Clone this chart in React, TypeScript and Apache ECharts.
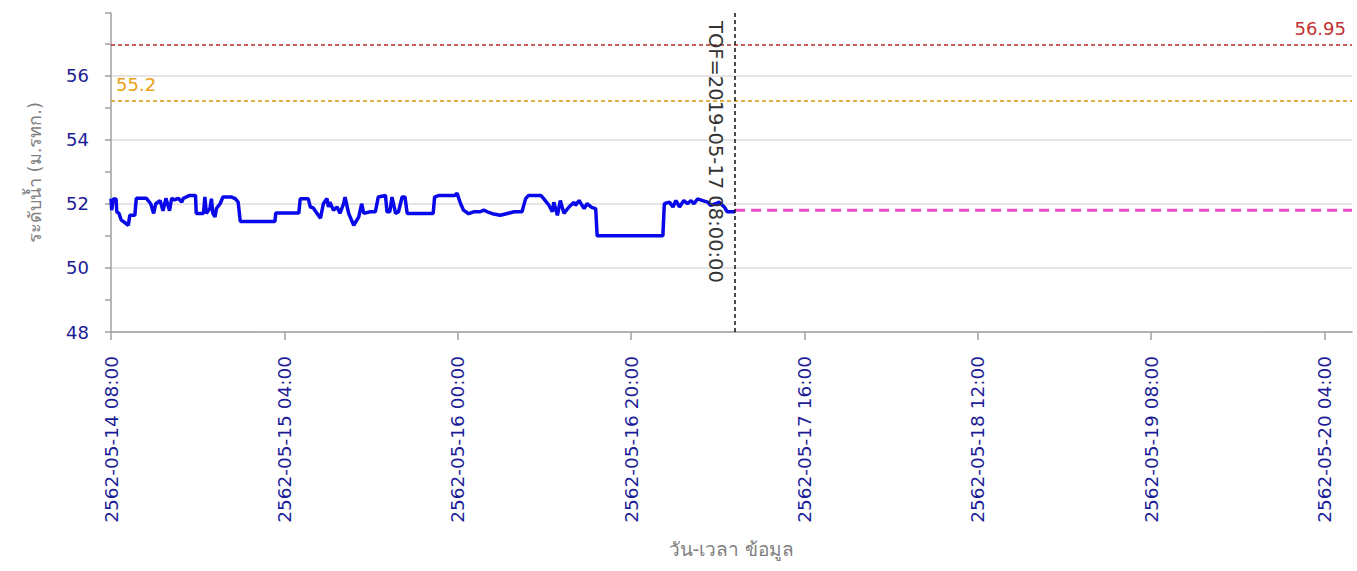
import React, { useEffect, useRef } from "react";
import * as echarts from "echarts";

const START = "2019-05-14 08:00";
const END = "2019-05-20 07:10";
const TOF = "2019-05-17 08:00";

const obsTimes = [
  "2019-05-14 08:00", "2019-05-14 08:05", "2019-05-14 08:15", "2019-05-14 08:35", "2019-05-14 08:40",
  "2019-05-14 08:55", "2019-05-14 09:10", "2019-05-14 10:00", "2019-05-14 10:10", "2019-05-14 10:45",
  "2019-05-14 10:55", "2019-05-14 12:05", "2019-05-14 12:35", "2019-05-14 12:55", "2019-05-14 13:10",
  "2019-05-14 13:40", "2019-05-14 14:00", "2019-05-14 14:20", "2019-05-14 14:45", "2019-05-14 15:00",
  "2019-05-14 15:20", "2019-05-14 15:45", "2019-05-14 16:10", "2019-05-14 16:20", "2019-05-14 17:05",
  "2019-05-14 17:45", "2019-05-14 17:50", "2019-05-14 18:40", "2019-05-14 18:50", "2019-05-14 19:00",
  "2019-05-14 19:25", "2019-05-14 19:35", "2019-05-14 19:45", "2019-05-14 20:00", "2019-05-14 20:10",
  "2019-05-14 20:35", "2019-05-14 20:55", "2019-05-14 21:55", "2019-05-14 22:20", "2019-05-14 22:40",
  "2019-05-14 22:55", "2019-05-15 02:55", "2019-05-15 03:00", "2019-05-15 05:40", "2019-05-15 05:50",
  "2019-05-15 06:45", "2019-05-15 07:00", "2019-05-15 07:20", "2019-05-15 07:55", "2019-05-15 08:10",
  "2019-05-15 08:30", "2019-05-15 08:55", "2019-05-15 09:05", "2019-05-15 09:15", "2019-05-15 09:40",
  "2019-05-15 10:05", "2019-05-15 10:25", "2019-05-15 10:50", "2019-05-15 11:00", "2019-05-15 11:25",
  "2019-05-15 12:00", "2019-05-15 12:35", "2019-05-15 12:55", "2019-05-15 13:10", "2019-05-15 13:55",
  "2019-05-15 14:30", "2019-05-15 14:50", "2019-05-15 15:40", "2019-05-15 15:50", "2019-05-15 16:10",
  "2019-05-15 16:25", "2019-05-15 16:50", "2019-05-15 17:10", "2019-05-15 17:35", "2019-05-15 17:55",
  "2019-05-15 18:10", "2019-05-15 21:10", "2019-05-15 21:20", "2019-05-15 21:50", "2019-05-15 23:40",
  "2019-05-15 23:55", "2019-05-16 00:20", "2019-05-16 00:40", "2019-05-16 01:15", "2019-05-16 01:50",
  "2019-05-16 02:35", "2019-05-16 03:00", "2019-05-16 03:25", "2019-05-16 04:00", "2019-05-16 04:55",
  "2019-05-16 06:30", "2019-05-16 07:25", "2019-05-16 07:50", "2019-05-16 08:10", "2019-05-16 09:35",
  "2019-05-16 09:55", "2019-05-16 10:30", "2019-05-16 10:55", "2019-05-16 11:05", "2019-05-16 11:30",
  "2019-05-16 11:50", "2019-05-16 12:15", "2019-05-16 12:50", "2019-05-16 13:25", "2019-05-16 13:35",
  "2019-05-16 14:00", "2019-05-16 14:35", "2019-05-16 14:55", "2019-05-16 15:30", "2019-05-16 15:55",
  "2019-05-16 16:05", "2019-05-16 23:40", "2019-05-16 23:50", "2019-05-17 00:25", "2019-05-17 00:50",
  "2019-05-17 01:10", "2019-05-17 01:35", "2019-05-17 02:05", "2019-05-17 02:30", "2019-05-17 02:55",
  "2019-05-17 03:15", "2019-05-17 03:40", "2019-05-17 04:15", "2019-05-17 04:50", "2019-05-17 05:10",
  "2019-05-17 05:45", "2019-05-17 06:10", "2019-05-17 06:45", "2019-05-17 07:05", "2019-05-17 08:00",
];

const obsLevels = [
  52.16, 51.80, 52.15, 52.15, 51.75,
  51.70, 51.50, 51.33, 51.64, 51.64,
  52.17, 52.17, 52.00, 51.70, 52.00,
  52.10, 51.78, 52.17, 51.78, 52.17,
  52.12, 52.17, 52.05, 52.17, 52.26,
  52.26, 51.70, 51.70, 52.21, 51.70,
  51.85, 52.16, 51.70, 51.59, 51.85,
  52.00, 52.21, 52.21, 52.16, 52.05,
  51.45, 51.45, 51.71, 51.71, 52.16,
  52.16, 51.90, 51.87, 51.64, 51.55,
  52.00, 52.16, 51.90, 52.05, 51.80,
  51.90, 51.70, 52.00, 52.21, 51.70,
  51.33, 51.59, 52.00, 51.70, 51.75,
  51.75, 52.21, 52.26, 51.75, 51.75,
  52.21, 51.70, 51.75, 52.21, 52.21,
  51.70, 51.70, 52.21, 52.26, 52.26,
  52.33, 52.00, 51.80, 51.69, 51.75,
  51.75, 51.80, 51.75, 51.69, 51.64,
  51.75, 51.75, 52.16, 52.26, 52.26,
  52.16, 51.96, 51.75, 52.05, 51.64,
  52.10, 51.70, 51.90, 52.05, 51.95,
  52.10, 51.85, 52.00, 51.88, 51.85,
  51.00, 51.00, 52.00, 52.05, 51.90,
  52.10, 51.90, 52.10, 52.00, 52.10,
  52.00, 52.15, 52.10, 52.05, 51.95,
  52.00, 52.05, 51.90, 51.75, 51.75,
];

const fcTimes = ["2019-05-17 08:00", "2019-05-20 07:10"];
const fcLevels = [51.8, 51.8];

const thresholdHigh = 56.95;
const thresholdWarn = 55.2;

const yMin = 48;
const yMax = 57.95;
const yStep = 2;
const xStepHours = 20;

const yAxisName = "ระดับน้ำ (ม.รทก.)";
const xAxisName = "วัน-เวลา ข้อมูล";
const tofLabel = "TOF=2019-05-17 08:00:00";

const FONT = "DejaVu Sans, Noto Sans, sans-serif";

function toMs(s: string): number {
  const [d, t] = s.split(" ");
  const [Y, M, D] = d.split("-").map(Number);
  const [h, m] = t.split(":").map(Number);
  return Date.UTC(Y, M - 1, D, h, m);
}
const startMs = toMs(START);
function hoursOf(s: string): number {
  return (toMs(s) - startMs) / 3600000;
}
function pad(n: number) {
  return n < 10 ? "0" + n : "" + n;
}
function fmtThai(h: number): string {
  const d = new Date(startMs + h * 3600000);
  return `${d.getUTCFullYear() + 543}-${pad(d.getUTCMonth() + 1)}-${pad(d.getUTCDate())} ${pad(
    d.getUTCHours()
  )}:${pad(d.getUTCMinutes())}`;
}

export default function App() {
  const ref = useRef<HTMLDivElement>(null);
  useEffect(() => {
    if (!ref.current) return;
    const chart = echarts.init(ref.current, undefined, { renderer: "svg" });
    const tofH = hoursOf(TOF);
    const option: any = {
      animation: false,
      backgroundColor: "#ffffff",
      textStyle: { fontFamily: FONT },
      grid: { left: 111, right: 5, top: 13, bottom: 239, containLabel: false },
      xAxis: {
        type: "value",
        min: 0,
        max: hoursOf(END),
        interval: xStepHours,
        name: xAxisName,
        nameLocation: "middle",
        nameGap: 207,
        nameTextStyle: { color: "#808080", fontSize: 19, fontFamily: FONT },
        axisLine: { show: true, lineStyle: { color: "#a0a0a0", width: 1.5 } },
        axisTick: { show: true, length: 8, lineStyle: { color: "#a0a0a0", width: 1.5 } },
        splitLine: { show: false },
        axisLabel: {
          rotate: 90,
          margin: 24,
          fontSize: 18.5,
          color: "#1c1c96",
          fontFamily: FONT,
          showMaxLabel: false,
          formatter: (v: number) =>
            Math.abs(v / xStepHours - Math.round(v / xStepHours)) < 1e-6 ? fmtThai(v) : "",
        },
      },
      yAxis: {
        type: "value",
        min: yMin,
        max: yMax,
        interval: yStep,
        name: yAxisName,
        nameLocation: "middle",
        nameGap: 68,
        nameTextStyle: { color: "#808080", fontSize: 18, fontFamily: FONT },
        axisLine: { show: true, lineStyle: { color: "#a0a0a0", width: 1.5 } },
        axisTick: { show: true, length: 6, lineStyle: { color: "#a0a0a0", width: 1.5 } },
        minorTick: { show: true, splitNumber: 2, length: 6, lineStyle: { color: "#a0a0a0", width: 1.5 } },
        splitLine: { show: true, showMaxLine: false, lineStyle: { color: "#dcdcdc", width: 1.5 } },
        axisLabel: {
          margin: 22,
          fontSize: 18,
          color: "#1c1c96",
          fontFamily: FONT,
          showMaxLabel: false,
          formatter: (v: number) =>
            Math.abs(v / yStep - Math.round(v / yStep)) < 1e-6 ? String(Math.round(v)) : "",
        },
      },
      series: [
        {
          name: "forecast",
          type: "line",
          data: fcTimes.map((t, i) => [hoursOf(t), fcLevels[i]]),
          showSymbol: false,
          symbol: "none",
          lineStyle: { color: "#e84fc8", width: 3, type: [10, 6] },
          z: 2,
        },
        {
          name: "observed",
          type: "line",
          data: obsTimes.map((t, i) => [hoursOf(t), obsLevels[i]]),
          showSymbol: false,
          symbol: "none",
          lineStyle: { color: "#0808e8", width: 3.5 },
          z: 3,
          markLine: {
            silent: true,
            symbol: "none",
            animation: false,
            data: [
              {
                yAxis: thresholdHigh,
                lineStyle: { color: "#b52a2a", type: [4, 3], width: 1.5 },
                label: {
                  show: true,
                  position: "insideEndTop",
                  formatter: String(thresholdHigh),
                  color: "#c23131",
                  fontSize: 18,
                  fontFamily: FONT,
                  distance: [6, 8],
                },
              },
              {
                yAxis: thresholdWarn,
                lineStyle: { color: "#d9950d", type: [4, 3], width: 1.5 },
                label: {
                  show: true,
                  position: "insideStartTop",
                  formatter: String(thresholdWarn),
                  color: "#e8a317",
                  fontSize: 18,
                  fontFamily: FONT,
                  distance: [5, 8],
                },
              },
              [
                {
                  coord: [tofH, yMax],
                  lineStyle: { color: "#111111", type: [4, 3], width: 1.5 },
                  label: {
                    show: true,
                    position: "insideStartBottom",
                    formatter: tofLabel,
                    color: "#333333",
                    fontSize: 19.5,
                    fontFamily: FONT,
                    distance: [8, 10],
                  },
                },
                { coord: [tofH, yMin] },
              ],
            ],
          },
        },
      ],
    };
    chart.setOption(option);
    return () => chart.dispose();
  }, []);
  return (
    <div
      ref={ref}
      style={{ position: "fixed", left: 0, top: 0, width: 1357, height: 571, background: "#fff" }}
    />
  );
}
